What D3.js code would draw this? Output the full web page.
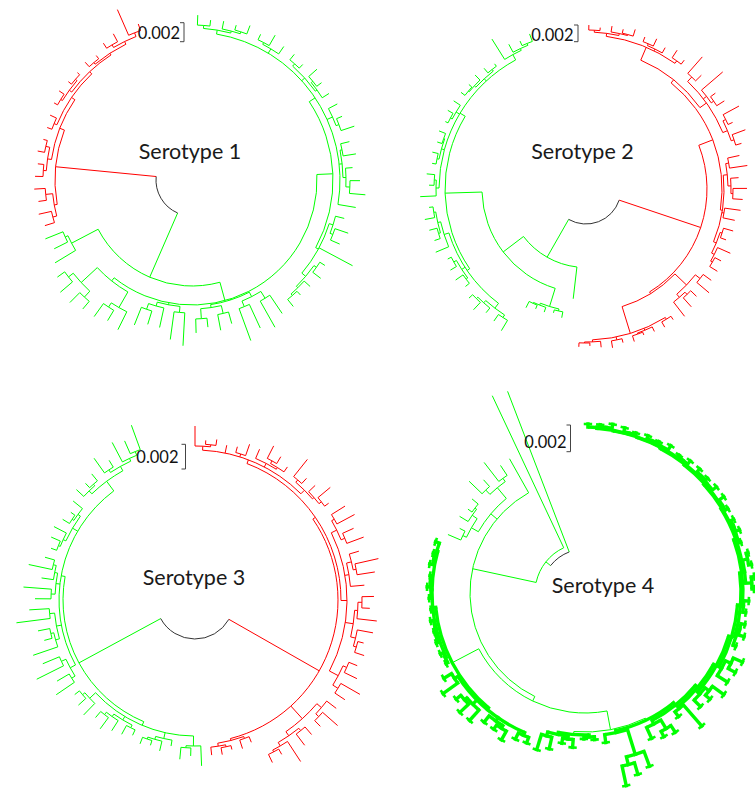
<!DOCTYPE html>
<html><head><meta charset="utf-8">
<script src="https://cdn.jsdelivr.net/npm/d3@7"></script>
<style>body{margin:0;background:#fff}svg{display:block}</style>
</head><body>
<svg id="chart" width="755" height="789"></svg>
<script>
// ================= DATA =================
const titles = ["Serotype 1", "Serotype 2", "Serotype 3", "Serotype 4"];
const scaleLabel = "0.002";
// branch-length units that correspond to 0.002 substitutions/site in each tree
const scaleBarUnits = [19, 16.7, 24.7, 26.7];

// ---- Serotype 1 (Newick sub-clades; tags: R = red clade, G = green clade)
const s1Top = "(((:10,:6):3,(:8,(:5,:9):2):2):4,((:6,:12):2,:9):5,((:7,:5):3,((:11,:6):2,:8):2):4,(:10,(:6,:14):3):6,((:9,:13):2,(:7,(:10,:16):4):3):3,:18)";
const s1LowerRight = "((:9,(:14,:10):3):4,:38,((:6,:10):3,(:8,(:5,:9):2):2):5)";
const s1BR = "(((:22,:30):8,(:26,:34):6):5,((:12,:16):8,(:9,:14):10):3)";
const s1B = "((:33,:28):6,(:20,(:14,:19):6):4)";
const s1BL = "((:20,(:12,:16):5):18,((:10,:14):8,(:16,:9):6):22)";
const s1GL = "(:24,(:15,:19):3)";
const s1RedLower = "((:10,:13):4,(:8,:11):7)";
const s1RedUpper = "(((:8,:6):3,(:7,:4):4):4,((:5,:7):3,(((:4,:6):2,(:4,:3):2):3,((:6,:4):2,((:6,:9):3,(:28,:7):4):3):2):3):4)";
const tree1 = `((((${s1Top}:7,${s1LowerRight}:3):16,${s1BR}:1,${s1B}:2,${s1BL}:4):19,${s1GL}:30)G:70,(${s1RedLower}:3,${s1RedUpper}:5)R:101)`;

// ---- Serotype 2
const s2TopComb = "(((:5,:3):2,(:6,(:4,:7):1):2):3,((:5,:8):2,:6):2,(:9,:5):3)";
const s2Mid = "((:22,:8):6,(:28,(:6,:9):3):4,((:18,:5):3,(:14,:6):3):5)";
const s2Right = "(((:12,:18):3,(:8,(:14,:10):2):3):4,(:16,:12):2,((:10,:6):2,(:14,(:7,:9):2):3):3)";
const s2LowCluster = "((:10,:16):6,((:8,:12):3,:18):4)";
const s2BottomComb = "((:4,:6):2,(:5,(:3,:6):1):2,(:4,:7):3,(:6,(:3,:4):1):2)";
const s2Inner = "((:6,:3):2,(:5,(:4,:7):1):2)";
const s2LowerLeft = "(((:12,:8):3,(:6,(:10,:5):2):3):6,((:5,:9):2,(:7,:4):3):4,(:14,((:6,:8):2,(:10,:4):2):3):5)";
const s2UpperLeft = "((:16,(:5,:8):2):3,((:4,:6):2,(:5,:7):1):3,((:3,:6):2,:8):4,(((:5,:4):1,:7):2,(:6,:3):2):3,(:24,(:9,(:5,:8):2):2):6)";
const tree2 = `((((${s2TopComb}:14,${s2Mid}:8):4,${s2Right}:2):15,(${s2LowCluster}:16,${s2BottomComb}:28):2)R:86,(:32,(${s2Inner}:19,(${s2LowerLeft}:3,${s2UpperLeft}:6):37):25.5)G:43.5)`;

// ---- Serotype 3
const s3TopR = "((:20,(:4,:6):2):4,:8,(:6,:12):3,(:10,((:14,:8):3,:6):2):4,((:22,:7):3,(:9,(:16,:5):3):2):5)";
const s3RightR = "(((:16,:20):3,(:12,:18):4):6,((:10,(:24,:18):3):5,:14):4,(((:12,:8):4,:20):3,(:16,(:6,:10):3):5):8,((:9,:14):4,(:22,:12):6):10)";
const s3MidLow = "((:12,(:20,:8):4):6,((:10,:14):3,(:24,(:6,:9):2):4):5)";
const s3Bottom = "((:6,:9):2,((:4,:7):2,:8):3)";
const s3BottomG = "((:20,(:8,:12):2):10,(:6,(:10,(:5,:7):2):3):6,((:6,:10):3,(:12,(:14,:8):3):3):4,(:16,(:10,:6):3):8)";
const s3LeftG = "(((:22,:14):4,(:30,:18):5):6,((:26,(:8,:12):3):4,(:34,:20):5):5,((:16,:28):4,(:12,(:24,:10):3):3):4,(((:6,:10):2,:14):3,((:8,:5):2,:12):3):6,((:10,(:6,:9):2):4,((:18,:8):3,(:22,(:14,:26):4):3):5):12)";
const tree3 = `(((${s3TopR}:4,${s3RightR}:6):3,${s3MidLow}:17,${s3Bottom}:2)R:104,(${s3BottomG}:4,${s3LeftG}:4)G:93)`;

// ---- Serotype 4 (T = bold clade). Bold right-hand clade is a ladder of small clusters.
const s4Clusters = [
  "(:3,(:2,:4):1)", "(:4,:2)", "((:3,:2):1,:5)", "(:2,:4)", "((:4,:3):1,:5)",
  "(:6,:3)", "((:3,:4):1,:2)", "((:2,:3):5,(:3,:2):6)", "(:5,:3)", "((:4,:6):2,:3)",
  "((:10,:8):6,:12)", "((:14,:6):5,:9)", "(:28,:6)", "((:8,:6):10,:12)", "((:16,(:12,:20):8):26,:8)"
];
const s4ClusterStems = [1, 1, 1, 1, 1, 1, 1, 1, 1, 1, 3, 3, 2, 4, 2];
const s4LadderSteps = [0.5, 0.5, 1, 1, 1, 1, 2, 2, 3, 3, 3, 3, 3];
const s4BottomThick = "((:3,:2):2,((:8,:5):3,(:12,:16):4):2)";
const s4LTbottom = "((:6,:7):3,((:10,:5):3,:8):4,(:14,(:12,:6):3):6,(:18,:9):4)";
const s4LTupper = "((:2,:3):1,((:2,:1):1,:3):1,:2,(:2,(:3,:1):1):1,((:3,:2):1,:4):1)";
const s4Thin = "(((:14,:6):4,(:10,(:5,:8):2):6):8,((:18,:9):6,(:24,:12):4):14)";
let s4Ladder = `(${s4Clusters[0]}:${s4ClusterStems[0]},${s4Clusters[1]}:${s4ClusterStems[1]})`;
for (let k = 2; k < s4Clusters.length; k++) {
  s4Ladder = `(${s4Ladder}:${s4LadderSteps[k - 2]},${s4Clusters[k]}:${s4ClusterStems[k]})`;
}
const tree4 = `(((((${s4Ladder}T:2,${s4BottomThick}T:3):19,(${s4LTbottom}:2,${s4LTupper}:3)T:30):5,${s4Thin}:8,:39):65,:168)G:6,G:172)`;

const trees = [tree1, tree2, tree3, tree4];

// ================= LAYOUT =================
const layout = [
  {cx: 192, cy: 180, r0: 36, a0: 2, a1: 341, tx: 190, ty: 159.3, barX: 184, barTop: 22.7, lx: 180, ly: 39.3},
  {cx: 586, cy: 189, r0: 35, a0: 1, a1: 340, tx: 582.5, ty: 159.3, barX: 578, barTop: 25, lx: 573.5, ly: 41},
  {cx: 195, cy: 600, r0: 39, a0: 0, a1: 340, tx: 194, ty: 585, barX: 185.5, barTop: 444.3, lx: 178.5, ly: 463.3},
  {cx: 585, cy: 593, r0: 44, a0: 1, a1: 339, tx: 603, ty: 593.3, barX: 570.5, barTop: 425, lx: 566.5, ly: 448.3}
];
const COL = {R: "#ff0000", G: "#00ff00", root: "#333333"};
const FONT = "Lato, 'Open Sans', 'DejaVu Sans', sans-serif";

function parseNewick(str) {
  const s = str.replace(/\s+/g, "");
  let i = 0;
  function node() {
    const n = {name: "", length: 0, children: null};
    if (s[i] === "(") {
      i++;
      n.children = [node()];
      while (s[i] === ",") { i++; n.children.push(node()); }
      i++; // ')'
    }
    let name = "";
    while (i < s.length && !":,()".includes(s[i])) name += s[i++];
    n.name = name;
    if (s[i] === ":") {
      i++;
      let num = "";
      while (i < s.length && !",()".includes(s[i])) num += s[i++];
      n.length = +num;
    }
    return n;
  }
  return node();
}

const svg = d3.select("#chart");
const radial = d3.lineRadial().angle(p => p[0]).radius(p => p[1]);

trees.forEach((nw, k) => {
  const L = layout[k];
  const g = svg.append("g").attr("transform", `translate(${L.cx},${L.cy})`);
  const root = d3.hierarchy(parseNewick(nw), d => d.children);
  const rScale = d3.scaleLinear().domain([0, 100]).range([L.r0, L.r0 + 100]);

  root.eachBefore(d => {
    d.len = (d.parent ? d.parent.len : 0) + d.data.length;
    const tag = d.data.name;
    d.color = tag.includes("R") ? COL.R : tag.includes("G") ? COL.G : (d.parent ? d.parent.color : COL.root);
    d.thick = tag.includes("T") || (d.parent ? d.parent.thick : false);
  });
  const leaves = root.leaves();
  const aScale = d3.scalePoint().domain(leaves.map((d, i) => i)).range([L.a0, L.a1]);
  leaves.forEach((d, i) => { d.a = aScale(i) * Math.PI / 180; });
  root.eachAfter(d => { if (d.children) d.a = d3.mean(d.children, c => c.a); });

  const wThin = 1, wThick = 3.4;
  // radial branches
  root.links().forEach(l => {
    g.append("path")
      .attr("d", radial([[l.target.a, rScale(l.source.len)], [l.target.a, rScale(l.target.len)]]))
      .attr("fill", "none")
      .attr("stroke", l.target.color)
      .attr("stroke-width", l.source.thick ? wThick : wThin)
      .attr("stroke-linecap", l.source.thick ? "square" : "butt");
  });
  // arcs of internal nodes
  root.descendants().filter(d => d.children && d.children.length > 1).forEach(d => {
    const amin = d3.min(d.children, c => c.a), amax = d3.max(d.children, c => c.a);
    const p = d3.path();
    p.arc(0, 0, rScale(d.len), amin - Math.PI / 2, amax - Math.PI / 2);
    g.append("path")
      .attr("d", p.toString())
      .attr("fill", "none")
      .attr("stroke", d.color)
      .attr("stroke-width", d.thick ? wThick : wThin);
  });
  // end caps on bold tips
  leaves.filter(d => d.thick).forEach(d => {
    const r = rScale(d.len), da = 4.2 / r;
    g.append("path")
      .attr("d", radial([[d.a - da, r], [d.a + da, r]]))
      .attr("stroke", d.color)
      .attr("stroke-width", 2.6);
  });

  // title
  svg.append("text")
    .attr("x", L.tx).attr("y", L.ty)
    .attr("text-anchor", "middle")
    .attr("font-family", FONT).attr("font-size", 21.5)
    .attr("fill", "#1a1a1a")
    .text(titles[k]);

  // scale bar
  const barLen = rScale(scaleBarUnits[k]) - rScale(0);
  const y0 = L.barTop, y1 = L.barTop + barLen;
  svg.append("path")
    .attr("d", `M${L.barX - 4},${y0}H${L.barX}V${y1}H${L.barX - 4}`)
    .attr("fill", "none").attr("stroke", "#444").attr("stroke-width", 1);
  svg.append("text")
    .attr("x", L.lx).attr("y", L.ly)
    .attr("text-anchor", "end")
    .attr("font-family", FONT).attr("font-size", 16.5)
    .attr("fill", "#111")
    .text(scaleLabel);
});
</script>
</body></html>
